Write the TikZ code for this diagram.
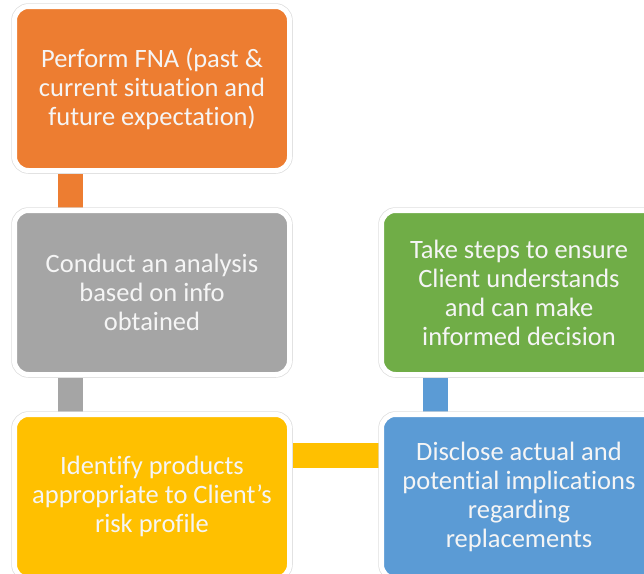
\documentclass[tikz,border=0pt]{standalone}
\usepackage{fontspec}
\setmainfont{Carlito}[Ligatures={NoCommon}]
\usetikzlibrary{calc,positioning,backgrounds}
\definecolor{fnaorange}{HTML}{ED7D31}
\definecolor{anagray}{HTML}{A5A5A5}
\definecolor{prodyellow}{HTML}{FFC000}
\definecolor{discblue}{HTML}{5B9BD5}
\definecolor{stepgreen}{HTML}{70AD47}
\tikzset{
    x=1pt, y=-1pt, % pixel like units, y pointing down
    node distance=40pt, % gap between two boxes
    stage/.style={rectangle, rounded corners=14pt, draw=white, line width=5pt,
        preaction={draw=black!13, line width=6.5pt},
        minimum width=275pt, minimum height=164pt, inner sep=0pt, outer sep=0pt,
        align=center, text=white!96!black, font=\fontsize{26.5}{29}\selectfont},
    link/.style={line width=25pt},
}
\begin{document}
\begin{tikzpicture}
  \useasboundingbox (0,0) rectangle (644,573);
  \clip (0,0) rectangle (644,573);

  \node[stage, fill=fnaorange] (fna) at (152,88.5)
       {Perform FNA (past \&\\current situation and\\future expectation)};
  \node[stage, fill=anagray] (analysis) [below=of fna]
       {Conduct an analysis\\based on info\\obtained};
  \node[stage, fill=prodyellow] (identify) [below=of analysis]
       {Identify products\\appropriate to Client’s\\risk profile};
  \node[stage, fill=discblue] (disclose) [right=92pt of identify]
       {Disclose actual and\\potential implications\\regarding\\replacements};
  \node[stage, fill=stepgreen] (ensure) [above=of disclose]
       {Take steps to ensure\\Client understands\\and can make\\informed decision};

  % connectors behind the boxes
  \begin{pgfonlayer}{background}
    \draw[link, fnaorange] ($(fna.south west)+(55.5,0)$) -- ($(analysis.north west)+(55.5,0)$);
    \draw[link, anagray] ($(analysis.south west)+(55.5,0)$) -- ($(identify.north west)+(55.5,0)$);
    \draw[link, prodyellow] ($(identify.north east)+(0,40.5)$) -- ($(disclose.north west)+(0,40.5)$);
    \draw[link, discblue] ($(disclose.north west)+(53.5,0)$) -- ($(ensure.south west)+(53.5,0)$);
  \end{pgfonlayer}
\end{tikzpicture}
\end{document}
